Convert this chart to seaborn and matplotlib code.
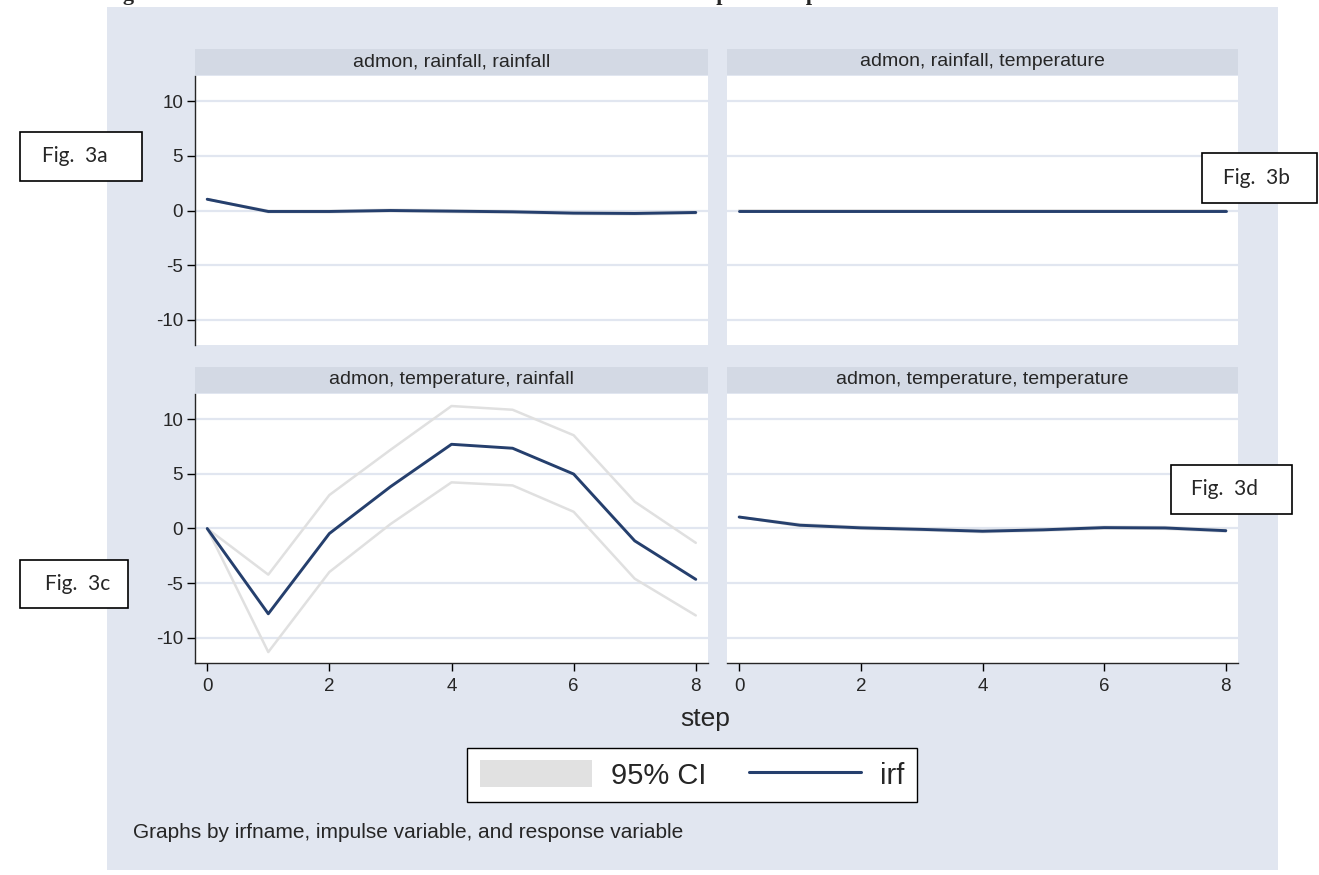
import numpy as np
import pandas as pd
import matplotlib
matplotlib.use("Agg")
import matplotlib.pyplot as plt
import seaborn as sns
from matplotlib.patches import Rectangle, Patch
from matplotlib.lines import Line2D

# irf values
steps = [0, 1, 2, 3, 4, 5, 6, 7, 8]
panels = ["admon, rainfall, rainfall", "admon, rainfall, temperature",
          "admon, temperature, rainfall", "admon, temperature, temperature"]

irf_a = [1.03, -0.09, -0.09, 0.0, -0.06, -0.12, -0.24, -0.27, -0.18]
lo_a = [1.03, -0.15, -0.16, -0.08, -0.14, -0.20, -0.32, -0.35, -0.27]
hi_a = [1.03, -0.03, -0.02, 0.07, 0.02, -0.05, -0.17, -0.19, -0.10]

irf_b = [0.0, 0.0, 0.0, 0.0, 0.0, 0.0, 0.0, 0.0, 0.0]
lo_b = [0.0, -0.02, -0.02, -0.02, -0.02, -0.02, -0.02, -0.02, -0.02]
hi_b = [0.0, 0.02, 0.02, 0.02, 0.02, 0.02, 0.02, 0.02, 0.02]

irf_c = [0.0, -7.8, -0.46, 3.82, 7.7, 7.34, 4.98, -1.13, -4.65]
lo_c = [0.0, -11.3, -3.98, 0.4, 4.22, 3.94, 1.53, -4.59, -7.95]
hi_c = [0.0, -4.22, 3.06, 7.19, 11.2, 10.86, 8.53, 2.45, -1.31]

irf_d = [1.05, 0.30, 0.06, -0.08, -0.25, -0.12, 0.08, 0.05, -0.20]
lo_d = [1.05, 0.22, -0.02, -0.16, -0.33, -0.20, 0.00, -0.03, -0.28]
hi_d = [1.05, 0.38, 0.14, 0.00, -0.17, -0.04, 0.16, 0.13, -0.12]

yticks = [-10, -5, 0, 5, 10]
xticks = [0, 2, 4, 6, 8]

frames = []
for name, irf, lo, hi in zip(panels, [irf_a, irf_b, irf_c, irf_d],
                             [lo_a, lo_b, lo_c, lo_d], [hi_a, hi_b, hi_c, hi_d]):
    frames.append(pd.DataFrame({"panel": name, "step": steps, "irf": irf,
                                "lower": lo, "upper": hi}))
df = pd.concat(frames, ignore_index=True)

sns.set_style("ticks")
plt.rcParams["font.family"] = ["Liberation Sans", "DejaVu Sans"]
plt.rcParams["axes.unicode_minus"] = False

bg = "#E1E6F0"
strip = "#D3D9E4"
navy = "#253F6D"
cigray = "#E0E0E0"

W, H = 1319, 875
fig = plt.figure(figsize=(W / 100, H / 100), dpi=100)
fig.patch.set_facecolor("white")

def fx(x):
    return x / W

def fy(y):
    return 1 - y / H

def rect(x0, y0, x1, y1, **kw):
    r = Rectangle((fx(x0), fy(y1)), (x1 - x0) / W, (y1 - y0) / H,
                  transform=fig.transFigure, **kw)
    fig.patches.append(r)
    return r

# cut-off caption at the very top of the page
fig.text(fx(103), 1.0, "Figure 3: Results of the Orthonormal VAR Model for Admon Impulse Response",
         fontsize=16, fontweight="bold", family="Liberation Serif", va="baseline")

# graph region
rect(107, 7, 1278, 870, facecolor=bg, edgecolor="none", zorder=-5)

boxes = [(195, 76, 708, 345), (727, 76, 1238, 345),
         (195, 394, 708, 663), (727, 394, 1238, 663)]

for i, (name, (x0, y0, x1, y1)) in enumerate(zip(panels, boxes)):
    ax = fig.add_axes([fx(x0), fy(y1), (x1 - x0) / W, (y1 - y0) / H])
    ax.set_facecolor("white")
    sub = df[df.panel == name]
    sns.lineplot(data=sub, x="step", y="lower", ax=ax, color=cigray, lw=1.8, estimator=None)
    sns.lineplot(data=sub, x="step", y="upper", ax=ax, color=cigray, lw=1.8, estimator=None)
    sns.lineplot(data=sub, x="step", y="irf", ax=ax, color=navy, lw=2.1, estimator=None)
    ax.set_xlim(-0.2, 8.2)
    ax.set_ylim(-12.3, 12.3)
    ax.set_yticks(yticks)
    ax.set_xticks(xticks)
    ax.set_xlabel("")
    ax.set_ylabel("")
    ax.grid(axis="y", color=bg, lw=1.6)
    ax.grid(axis="x", visible=False)
    for s in ["top", "right"]:
        ax.spines[s].set_visible(False)
    ax.spines["left"].set_linewidth(1.0)
    ax.spines["bottom"].set_linewidth(1.0)
    ax.tick_params(axis="both", length=6, width=1.0, color="black", labelsize=13.5)
    ax.tick_params(axis="y", pad=2.5)
    ax.tick_params(axis="x", pad=5)
    if i % 2 == 1:
        ax.spines["left"].set_visible(False)
        ax.tick_params(axis="y", left=False, labelleft=False)
    if i < 2:
        ax.spines["bottom"].set_visible(False)
        ax.tick_params(axis="x", bottom=False, labelbottom=False)
    # strip title
    rect(x0, y0 - 27, x1, y0 - 1, facecolor=strip, edgecolor="none", zorder=1)
    fig.text(fx((x0 + x1) / 2), fy(y0 - 14), name, ha="center", va="center",
             fontsize=14, zorder=2)

fig.text(fx(705), fy(719), "step", ha="center", va="center", fontsize=19)

handles = [Patch(facecolor="#E1E1E1", edgecolor="none", label="95% CI"),
           Line2D([], [], color=navy, lw=2.2, label="irf")]
leg = fig.legend(handles=handles, ncol=2, loc="center",
                 bbox_to_anchor=(fx(692), fy(775)), frameon=True, fancybox=False,
                 edgecolor="black", framealpha=1, fontsize=21, handlelength=3.85,
                 handleheight=1.05, handletextpad=0.65, columnspacing=1.45,
                 borderpad=0.42, borderaxespad=0)
leg.get_frame().set_linewidth(1.0)

fig.text(fx(133), fy(832), "Graphs by irfname, impulse variable, and response variable",
         va="center", fontsize=15)

# Fig. 3a-3d labels
figlabels = [("Fig.  3a", 20, 132, 142, 181, 42),
             ("Fig.  3b", 1202, 153, 1317, 203, 1223),
             ("Fig.  3c", 20, 560, 128, 608, 45),
             ("Fig.  3d", 1171, 465, 1292, 514, 1191)]
for txt, x0, y0, x1, y1, tx in figlabels:
    rect(x0, y0, x1, y1, facecolor="white", edgecolor="black", lw=1.2, zorder=10)
    fig.text(fx(tx), fy((y0 + y1) / 2), txt, va="center", fontsize=15,
             family=["Lato", "DejaVu Sans"], zorder=11)

fig.savefig("out.png", dpi=100)
